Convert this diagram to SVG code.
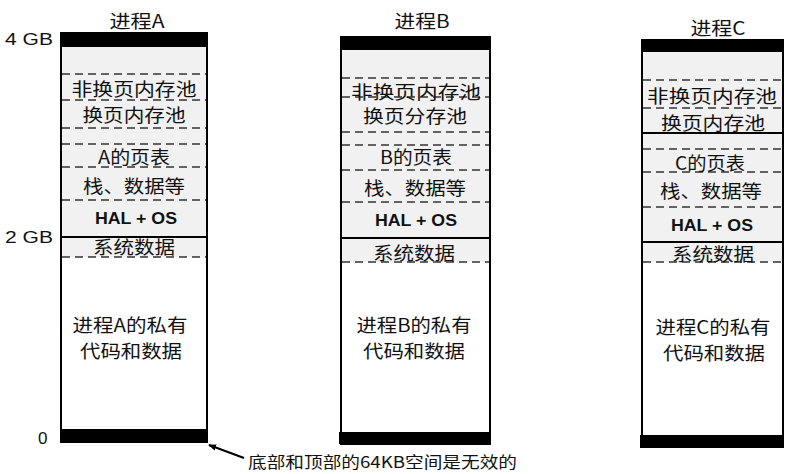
<svg xmlns="http://www.w3.org/2000/svg" width="787" height="474" viewBox="0 0 787 474">
<defs>
<style>
.box{fill:#fff;stroke:#000;stroke-width:2}
.shade{fill:#f1f1f1}
.bar{fill:#000}
.dash{stroke:#333;stroke-width:1.3;stroke-dasharray:8 5;fill:none}
.solid{stroke:#000;stroke-width:1.8;fill:none}
.cjk{font-family:"Noto Sans CJK SC","Noto Sans",sans-serif;font-size:18px;fill:#111;text-anchor:middle;dominant-baseline:central}
.note{font-family:"Noto Sans CJK SC","Noto Sans",sans-serif;font-size:16px;fill:#111;dominant-baseline:central}
.hal{font-family:"Liberation Sans",Arial,sans-serif;font-weight:bold;font-size:16px;fill:#111;text-anchor:middle;dominant-baseline:central}
.lbl{font-family:"Liberation Sans",Arial,sans-serif;font-size:17px;fill:#111;dominant-baseline:central}
</style>
<marker id="ah" viewBox="0 0 10 10" refX="9" refY="5" markerWidth="8" markerHeight="8" orient="auto" markerUnits="userSpaceOnUse">
<path d="M0,1 L10,5 L0,9 z" fill="#000"/>
</marker>
</defs>
<rect width="787" height="474" fill="#fff"/>

<g id="axis">
<text class="lbl" x="5" y="39" textLength="48" lengthAdjust="spacingAndGlyphs">4 GB</text>
<text class="lbl" x="5" y="237" textLength="48" lengthAdjust="spacingAndGlyphs">2 GB</text>
<text class="lbl" x="38" y="438">0</text>
</g>

<g id="procA">
<text class="cjk" x="137" y="20" textLength="55" lengthAdjust="spacingAndGlyphs">进程A</text>
<rect class="box" x="61" y="33" width="146" height="409"/>
<rect class="shade" x="62" y="47" width="144" height="210"/>
<rect class="bar" x="60" y="33" width="148" height="14"/>
<rect class="bar" x="60" y="429" width="147" height="13"/>
<line class="dash" x1="62" y1="74" x2="206" y2="74"/>
<line class="dash" x1="62" y1="100" x2="206" y2="100"/>
<line class="dash" x1="62" y1="128" x2="206" y2="128"/>
<line class="dash" x1="62" y1="144" x2="206" y2="144"/>
<line class="dash" x1="62" y1="167" x2="206" y2="167"/>
<line class="dash" x1="62" y1="200" x2="206" y2="200"/>
<line class="solid" x1="61" y1="237" x2="207" y2="237"/>
<line class="dash" x1="62" y1="257" x2="206" y2="257"/>
<text class="cjk" x="134" y="88" textLength="125" lengthAdjust="spacingAndGlyphs">非换页内存池</text>
<text class="cjk" x="134" y="114" textLength="103" lengthAdjust="spacingAndGlyphs">换页内存池</text>
<text class="cjk" x="134" y="156" textLength="72" lengthAdjust="spacingAndGlyphs">A的页表</text>
<text class="cjk" x="134" y="185" textLength="102" lengthAdjust="spacingAndGlyphs">栈、数据等</text>
<text class="hal" x="136" y="218" textLength="82" lengthAdjust="spacingAndGlyphs">HAL + OS</text>
<text class="cjk" x="134" y="246" textLength="82" lengthAdjust="spacingAndGlyphs">系统数据</text>
<text class="cjk" x="130" y="324" textLength="115" lengthAdjust="spacingAndGlyphs">进程A的私有</text>
<text class="cjk" x="131" y="350" textLength="102" lengthAdjust="spacingAndGlyphs">代码和数据</text>
</g>

<g id="procB">
<text class="cjk" x="422" y="20" textLength="55" lengthAdjust="spacingAndGlyphs">进程B</text>
<rect class="box" x="341" y="37" width="149" height="407"/>
<rect class="shade" x="342" y="50" width="147" height="212"/>
<rect class="bar" x="340" y="37" width="151" height="13"/>
<rect class="bar" x="339" y="432" width="150" height="12"/>
<line class="dash" x1="342" y1="78" x2="489" y2="78"/>
<line class="dash" x1="342" y1="97" x2="489" y2="97"/>
<line class="dash" x1="342" y1="132" x2="489" y2="132"/>
<line class="dash" x1="342" y1="145" x2="489" y2="145"/>
<line class="dash" x1="342" y1="170" x2="489" y2="170"/>
<line class="dash" x1="342" y1="202" x2="489" y2="202"/>
<line class="solid" x1="341" y1="238" x2="490" y2="238"/>
<line class="dash" x1="342" y1="262" x2="489" y2="262"/>
<text class="cjk" x="416" y="91" textLength="130" lengthAdjust="spacingAndGlyphs">非换页内存池</text>
<text class="cjk" x="415" y="115" textLength="104" lengthAdjust="spacingAndGlyphs">换页分存池</text>
<text class="cjk" x="416" y="156" textLength="72" lengthAdjust="spacingAndGlyphs">B的页表</text>
<text class="cjk" x="415" y="187" textLength="102" lengthAdjust="spacingAndGlyphs">栈、数据等</text>
<text class="hal" x="416" y="220" textLength="82" lengthAdjust="spacingAndGlyphs">HAL + OS</text>
<text class="cjk" x="414" y="252" textLength="82" lengthAdjust="spacingAndGlyphs">系统数据</text>
<text class="cjk" x="414" y="324" textLength="115" lengthAdjust="spacingAndGlyphs">进程B的私有</text>
<text class="cjk" x="414" y="350" textLength="102" lengthAdjust="spacingAndGlyphs">代码和数据</text>
</g>

<g id="procC">
<text class="cjk" x="718" y="27" textLength="55" lengthAdjust="spacingAndGlyphs">进程C</text>
<rect class="box" x="642" y="40" width="141" height="407"/>
<rect class="shade" x="643" y="52" width="139" height="210"/>
<rect class="bar" x="641" y="40" width="143" height="12"/>
<rect class="bar" x="640" y="435" width="144" height="13"/>
<line class="dash" x1="643" y1="80" x2="782" y2="80"/>
<line class="dash" x1="643" y1="108" x2="782" y2="108"/>
<line class="solid" x1="642" y1="133" x2="783" y2="133"/>
<line class="dash" x1="643" y1="149" x2="782" y2="149"/>
<line class="dash" x1="643" y1="172" x2="782" y2="172"/>
<line class="dash" x1="643" y1="207" x2="782" y2="207"/>
<line class="solid" x1="642" y1="242" x2="783" y2="242"/>
<line class="dash" x1="643" y1="262" x2="782" y2="262"/>
<text class="cjk" x="712" y="95" textLength="130" lengthAdjust="spacingAndGlyphs">非换页内存池</text>
<text class="cjk" x="713" y="122" textLength="104" lengthAdjust="spacingAndGlyphs">换页内存池</text>
<text class="cjk" x="710" y="162" textLength="70" lengthAdjust="spacingAndGlyphs">C的页表</text>
<text class="cjk" x="711" y="190" textLength="102" lengthAdjust="spacingAndGlyphs">栈、数据等</text>
<text class="hal" x="712" y="225" textLength="82" lengthAdjust="spacingAndGlyphs">HAL + OS</text>
<text class="cjk" x="713" y="253" textLength="82" lengthAdjust="spacingAndGlyphs">系统数据</text>
<text class="cjk" x="713" y="326" textLength="115" lengthAdjust="spacingAndGlyphs">进程C的私有</text>
<text class="cjk" x="714" y="352" textLength="102" lengthAdjust="spacingAndGlyphs">代码和数据</text>
</g>

<g id="connectors">
<line x1="244" y1="458" x2="209" y2="445" stroke="#000" stroke-width="2" marker-end="url(#ah)"/>
</g>

<g id="note">
<text class="note" x="248" y="461" textLength="269" lengthAdjust="spacingAndGlyphs">底部和顶部的64KB空间是无效的</text>
</g>
</svg>
